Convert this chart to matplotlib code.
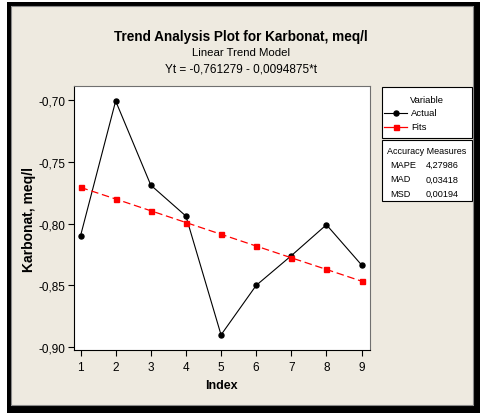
import matplotlib
matplotlib.use("Agg")
import matplotlib.pyplot as plt
from matplotlib.patches import Rectangle
from matplotlib.lines import Line2D

plt.rcParams["font.family"] = ["Liberation Sans", "DejaVu Sans"]

# data
index = [1, 2, 3, 4, 5, 6, 7, 8, 9]
actual = [-0.810, -0.701, -0.769, -0.794, -0.890, -0.850, -0.826, -0.801, -0.8335]
fits = [-0.7708, -0.7802, -0.7897, -0.7992, -0.8087, -0.8182, -0.8277, -0.8371, -0.8466]
yticks = [-0.70, -0.75, -0.80, -0.85, -0.90]
ytick_labels = ["-0,70", "-0,75", "-0,80", "-0,85", "-0,90"]
measure_names = ["MAPE", "MAD", "MSD"]
measure_values = ["4,27986", "0,03418", "0,00194"]

W, H = 480, 414
fig = plt.figure(figsize=(W / 100, H / 100), dpi=100)
fig.patch.set_facecolor("white")


def fx(px):
    return px / W


def fy(py):
    return 1 - py / H


def rect(x0, y0, x1, y1, z=-10, **kw):
    r = Rectangle((fx(x0), fy(y1)), fx(x1) - fx(x0), fy(y0) - fy(y1),
                  transform=fig.transFigure, zorder=z, **kw)
    fig.patches.append(r)


# frame and panel background
rect(7, 3, 480, 414, z=-12, facecolor="black", edgecolor="none")
rect(11, 7, 474, 407, z=-11, facecolor="white", edgecolor="none")
rect(11, 7, 473, 406, z=-10, facecolor="#EEEAE0", edgecolor="#8a8a8a", linewidth=0.8)

# titles
fig.text(fx(241), fy(37), "Trend Analysis Plot for Karbonat, meq/l", ha="center", va="center",
         fontsize=9.8, fontweight="bold")
fig.text(fx(241), fy(53), "Linear Trend Model", ha="center", va="center", fontsize=8.2)
fig.text(fx(241), fy(70), "Yt = -0,761279 - 0,0094875*t", ha="center", va="center", fontsize=8.5)

ax = fig.add_axes([fx(73.5), fy(351), fx(370) - fx(73.5), fy(87) - fy(351)])
ax.set_facecolor("white")
ax.plot(index, actual, color="black", linewidth=0.8, marker="o", markersize=3.6)
ax.plot(index, fits, color="red", linewidth=0.9, linestyle=(0, (6, 3)),
        marker="s", markersize=3.6)
ax.set_xlim(0.80, 9.24)
ax.set_ylim(-0.9022, -0.6889)
ax.set_xticks(index)
ax.set_yticks(yticks)
ax.set_yticklabels(ytick_labels)
ax.tick_params(direction="out", length=4, width=0.8, labelsize=8.5, pad=2)
ax.tick_params(axis="x", pad=4)
for s in ["left", "bottom"]:
    ax.spines[s].set_color("black")
    ax.spines[s].set_linewidth(0.8)
for s in ["top", "right"]:
    ax.spines[s].set_color("#707070")
    ax.spines[s].set_linewidth(0.8)
ax.set_xlabel("Index", fontsize=9, fontweight="bold", labelpad=4)
fig.text(fx(29), fy(220), "Karbonat, meq/l", rotation=90, ha="center", va="center",
         fontsize=10, fontweight="bold")

# legend box
rect(381.5, 87.5, 471.5, 138.5, z=2, facecolor="white", edgecolor="black", linewidth=0.8)
fig.text(fx(427), fy(100.5), "Variable", ha="center", va="center", fontsize=6.8)
fig.lines.append(Line2D([fx(384), fx(407)], [fy(114), fy(114)], transform=fig.transFigure,
                        color="black", linewidth=0.8, zorder=3))
fig.lines.append(Line2D([fx(395.5)], [fy(114)], transform=fig.transFigure, color="black",
                        marker="o", markersize=3.6, linestyle="none", zorder=3))
fig.lines.append(Line2D([fx(384), fx(407)], [fy(127.5), fy(127.5)], transform=fig.transFigure,
                        color="red", linewidth=0.9, zorder=3))
fig.lines.append(Line2D([fx(395.5)], [fy(127.5)], transform=fig.transFigure, color="red",
                        marker="s", markersize=3.6, linestyle="none", zorder=3))
fig.text(fx(411), fy(114), "Actual", ha="left", va="center", fontsize=6.8)
fig.text(fx(411), fy(127.5), "Fits", ha="left", va="center", fontsize=6.8)

# accuracy measures box
rect(381.5, 140.5, 471.5, 201.5, z=2, facecolor="white", edgecolor="black", linewidth=0.8)
fig.text(fx(426.5), fy(151), "Accuracy Measures", ha="center", va="center", fontsize=6.5)
for i, (name, val) in enumerate(zip(measure_names, measure_values)):
    y = 165.5 + i * 14.5
    fig.text(fx(390.5), fy(y), name, ha="left", va="center", fontsize=6.6)
    fig.text(fx(426), fy(y), val, ha="left", va="center", fontsize=6.6)

fig.savefig("out.png", dpi=100)
